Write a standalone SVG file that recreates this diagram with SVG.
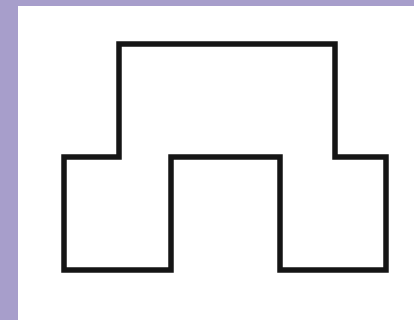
<svg xmlns="http://www.w3.org/2000/svg" width="414" height="320" viewBox="0 0 414 320">
<style>.shape{fill:none;stroke:#151515;stroke-width:5.5;stroke-linejoin:miter}</style>
<rect width="414" height="320" fill="#a79ecb"/>
<rect x="18" y="6" width="396" height="314" fill="#ffffff"/>
<g id="outline">
<path class="shape" d="M119,157 L119,44 L335,44 L335,157 L386,157 L386,270 L280,270 L280,157 L171,157 L171,270 L64,270 L64,157 Z"/>
</g>
</svg>
